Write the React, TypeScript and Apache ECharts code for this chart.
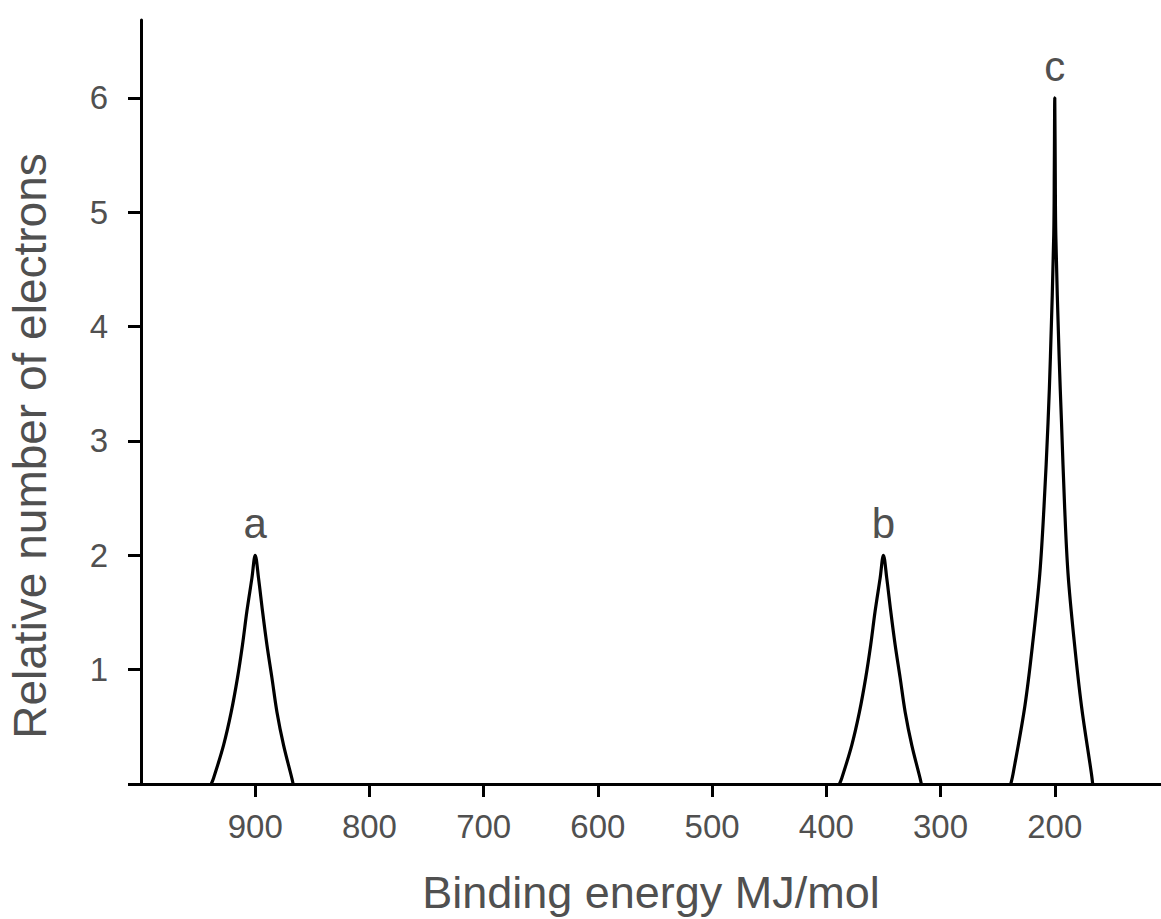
import React, { useEffect, useRef } from "react";
import * as echarts from "echarts";

// Binding energy (MJ/mol) tick labels
const xTickValues = [900, 800, 700, 600, 500, 400, 300, 200];
const yTickValues = [1, 2, 3, 4, 5, 6];

// Peak a (~900 MJ/mol)
const peakAx = [938.5, 936.5, 927.7, 921.0, 915.5, 911.1, 907.3, 902.9, 900, 897.1, 893.6, 889.8, 885.4, 881.0, 875.2, 867.9, 866.8];
const peakAy = [0, 0.05, 0.34, 0.63, 0.93, 1.22, 1.51, 1.8, 2, 1.8, 1.51, 1.22, 0.93, 0.63, 0.34, 0.05, 0];

// Peak b (~350 MJ/mol)
const peakBx = [388.5, 386.5, 377.7, 371.0, 365.5, 361.1, 357.3, 352.9, 350, 347.1, 343.6, 339.8, 335.4, 331.0, 325.2, 317.9, 316.8];
const peakBy = [0, 0.05, 0.34, 0.63, 0.93, 1.22, 1.51, 1.8, 2, 1.8, 1.51, 1.22, 0.93, 0.63, 0.34, 0.05, 0];

// Peak c (~200 MJ/mol)
const peakCx = [238.5, 236.5, 226.2, 219.0, 213.1, 209.4, 205.9, 203.8, 200.9, 200.4, 200, 199.6, 199.1, 196.2, 194.1, 191.4, 188.4, 183.1, 176.6, 167.9, 166.8];
const peakCy = [0, 0.09, 0.68, 1.26, 1.84, 2.43, 3.16, 3.74, 4.8, 5.4, 6, 5.4, 4.8, 3.74, 3.16, 2.43, 1.84, 1.26, 0.68, 0.09, 0];

const peakLabels = ["a", "b", "c"];

const FONT = "'Liberation Sans', Arial, Helvetica, sans-serif";
const TEXT_COLOR = "#505050";

export default function App() {
  const ref = useRef<HTMLDivElement>(null);
  useEffect(() => {
    if (!ref.current) return;
    const chart = echarts.init(ref.current, null, { renderer: "svg" });
    const peaks = [
      [peakAx, peakAy],
      [peakBx, peakBy],
      [peakCx, peakCy],
    ];
    chart.setOption({
      animation: false,
      backgroundColor: "#ffffff",
      grid: {
        left: 141,
        top: 20,
        width: 1020,
        height: 764,
        containLabel: false,
        outerBoundsMode: "none",
      },
      xAxis: {
        type: "value",
        inverse: true,
        min: 107,
        max: 1000,
        name: "Binding energy MJ/mol",
        nameLocation: "middle",
        nameGap: 86,
        nameTextStyle: { fontSize: 45, fontFamily: FONT, color: TEXT_COLOR },
        axisLine: { show: true, onZero: false, lineStyle: { color: "#000", width: 3 } },
        axisTick: { show: true, length: 13, customValues: xTickValues, lineStyle: { color: "#000", width: 3 } },
        axisLabel: {
          customValues: xTickValues,
          margin: 26,
          fontSize: 33,
          fontFamily: FONT,
          color: TEXT_COLOR,
        },
        splitLine: { show: false },
      },
      yAxis: {
        type: "value",
        min: 0,
        max: 6.68,
        axisLine: { show: true, lineStyle: { color: "#000", width: 3 } },
        axisTick: { show: true, length: 13, customValues: [0, ...yTickValues], lineStyle: { color: "#000", width: 3 } },
        axisLabel: {
          customValues: yTickValues,
          margin: 33,
          fontSize: 33,
          fontFamily: FONT,
          color: TEXT_COLOR,
        },
        splitLine: { show: false },
      },
      graphic: [
        {
          type: "text",
          x: 30,
          y: 446,
          rotation: Math.PI / 2,
          style: {
            text: "Relative number of electrons",
            fontSize: 46,
            fontFamily: FONT,
            fill: TEXT_COLOR,
            textAlign: "center",
            textVerticalAlign: "middle",
          },
        },
      ],
      series: peaks.map(([xs, ys], i) => {
        let peakIdx = 0;
        ys.forEach((v, j) => {
          if (v > ys[peakIdx]) peakIdx = j;
        });
        return {
          type: "line",
          data: xs.map((x, j) => [x, ys[j]]),
          smooth: 0.35,
          symbol: "none",
          lineStyle: { color: "#000", width: 3.2 },
          silent: true,
          markPoint: {
            silent: true,
            symbol: "circle",
            symbolSize: 1,
            itemStyle: { color: "rgba(0,0,0,0)" },
            label: {
              show: true,
              position: "top",
              distance: 10,
              formatter: peakLabels[i],
              fontSize: 42,
              fontFamily: FONT,
              color: TEXT_COLOR,
            },
            data: [{ coord: [xs[peakIdx], ys[peakIdx]] }],
          },
        };
      }),
    });
    return () => chart.dispose();
  }, []);
  return (
    <div
      ref={ref}
      style={{ position: "absolute", left: 0, top: 0, width: 1161, height: 919 }}
    />
  );
}
